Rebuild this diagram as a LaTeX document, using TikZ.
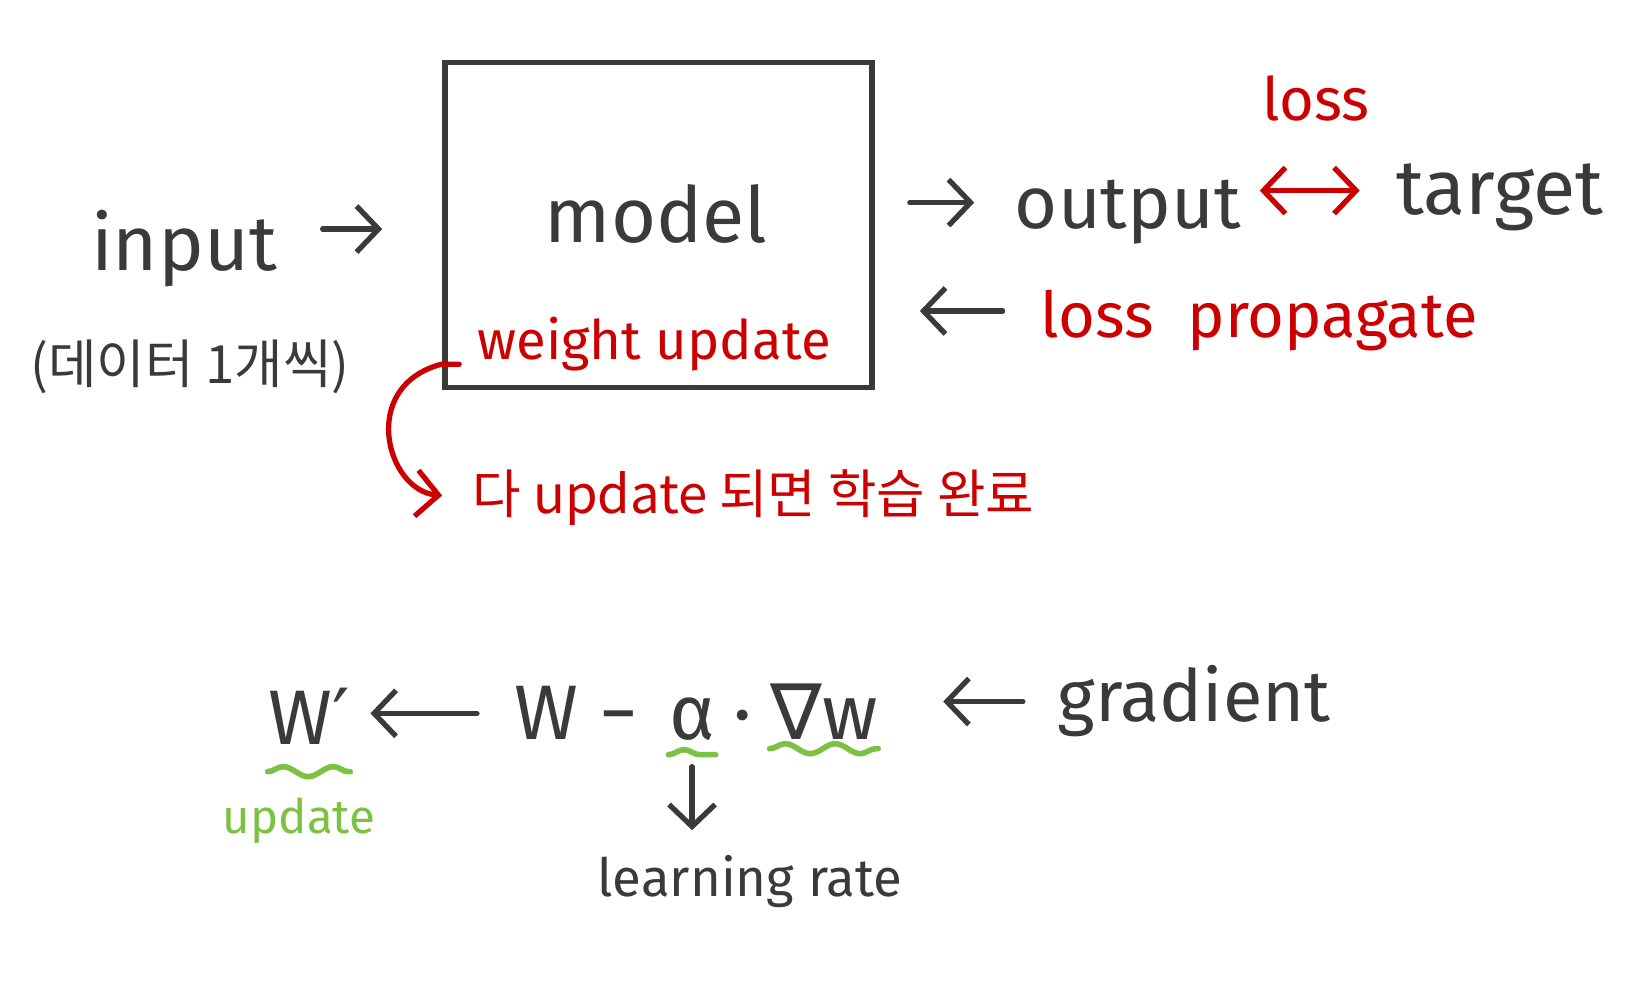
\documentclass[tikz,border=0pt]{standalone}
\usepackage{fontspec}
\setmainfont{Fira Sans}
\newfontfamily\krfont{Noto Sans CJK KR}
\newfontfamily\symfont{DejaVu Sans}
\usetikzlibrary{arrows.meta, positioning, decorations.pathmorphing}
\definecolor{ink}{HTML}{3A3A3A}
\definecolor{pen}{HTML}{CC0000}
\definecolor{marker}{HTML}{7CC242}

\begin{document}
\begin{tikzpicture}[
  hand/.style={inner sep=0pt, text=ink, font=\fontsize{22}{24}\selectfont, anchor=base},
  note/.style={inner sep=0pt, text=pen, font=\fontsize{17}{19}\selectfont, anchor=base},
  small/.style={hand, font=\fontsize{15}{17}\selectfont},
  arr/.style={draw=ink, line width=1.5pt, line cap=round, -{Straight Barb[length=2.2mm,width=4.6mm]}},
  redarr/.style={arr, draw=pen},
  dblarr/.style={redarr, {Straight Barb[length=2.2mm,width=4.6mm]}-{Straight Barb[length=2.2mm,width=4.6mm]}},
  wave/.style={draw=marker, line width=1.6pt, line cap=round, decorate,
    decoration={snake, segment length=5mm, amplitude=0.5mm}}
]
  \useasboundingbox[fill=white] (0,0) rectangle (16.45,10);

  % model box and what goes in and out
  \node[draw=ink, line width=1.6pt, minimum width=4.27cm, minimum height=3.25cm, inner sep=0pt] (box) at (6.585,7.75) {};
  \node[hand] (model) at (6.56,7.57) {model};
  \node[note, font=\fontsize{15.5}{17}\selectfont] (weight) at (6.54,6.40) {weight update};
  \node[hand] (input) at (1.84,7.29) {input};
  \node[small, anchor=center] (data) at (1.90,6.33) {\krfont (데이터 1개씩)};
  \node[hand, font=\fontsize{21}{23}\selectfont] (output) at (11.28,7.71) {output};
  \node[hand] (target) at (15.00,7.85) {target};
  \node[note] (loss) at (13.16,8.79) {loss};
  \node[note, font=\fontsize{18}{20}\selectfont] (prop) at (12.59,6.62) {loss\ \ propagate};
  \node[note, font=\krfont\fontsize{15}{17}\selectfont, anchor=base west] (done) at (4.72,4.86) {다 update 되면 학습 완료};

  \draw[arr, shorten <=4.5mm, shorten >=6mm] ([yshift=2mm]input.east) -- ([yshift=2mm]input.east -| box.west);
  \draw[arr, shorten <=3.5mm, shorten >=4mm] ([yshift=1mm]output.west -| box.east) -- ([yshift=1mm]output.west);
  \draw[dblarr, shorten <=1.8mm, shorten >=3.6mm] ([yshift=2.2mm]output.east) -- ([yshift=2.2mm]output.east -| target.west);
  \draw[arr, shorten <=3.7mm, shorten >=4.5mm] ([yshift=1mm]prop.west) -- ([yshift=1mm]prop.west -| box.east);
  \draw[redarr, shorten >=3mm] ([xshift=1.7mm, yshift=2.6mm]box.south west) -- ++(-0.18,0)
    to[out=195, in=175, looseness=1.6] (done.west);

  % update rule
  \node[hand] (wnew) at (3.09,2.55) {W{\symfont ′}};
  \node[hand, anchor=base west] (wold) at (5.14,2.60) {W\ −};
  \node[hand, base right=0.3cm of wold] (alpha) {α};
  \node[hand, base right=0.17cm of alpha] (dot) {·};
  \node[hand, base right=0.17cm of dot] (gradw) {{\symfont ∇}w};
  \node[hand, font=\fontsize{20.5}{23}\selectfont] (gradient) at (11.94,2.78) {gradient};
  \node[small, font=\fontsize{13.5}{15}\selectfont, text=marker] (upd) at (2.99,1.66) {update};
  \node[small] (lr) at (7.50,1.03) {learning rate};

  \draw[arr, shorten <=3.7mm, shorten >=2mm] (wold.west) -- (wold.west -| wnew.east);
  \draw[arr, shorten <=3.4mm, shorten >=6.5mm] (gradient.west) -- (gradient.west -| gradw.east);
  \draw[arr, shorten <=2.5mm, shorten >=2.5mm] (alpha.south) -- (alpha.south |- lr.north);
  \draw[wave] ([yshift=-1.3mm]alpha.south west) -- ([yshift=-1.3mm]alpha.south east);
  \draw[wave] ([yshift=-0.8mm]gradw.south west) -- ([yshift=-0.8mm]gradw.south east);
  \draw[wave] ([yshift=-2.6mm]wnew.south west) -- ([yshift=-2.6mm]wnew.south east);
\end{tikzpicture}
\end{document}
